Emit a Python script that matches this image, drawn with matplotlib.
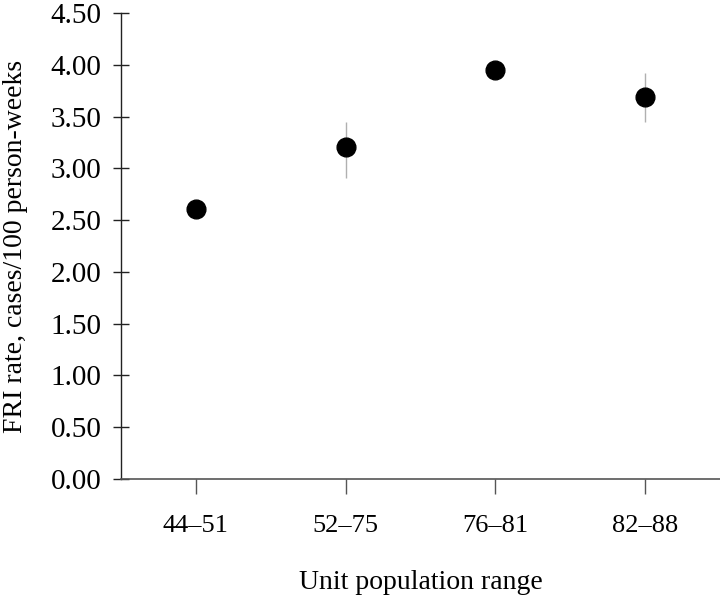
import matplotlib
matplotlib.use("Agg")
import matplotlib.pyplot as plt

categories = ["44\u201351", "52\u201375", "76\u201381", "82\u201388"]
rates = [2.61, 3.21, 3.95, 3.69]
err_low = [0.07, 0.30, 0.07, 0.24]
err_high = [0.07, 0.24, 0.07, 0.23]
yticks = [0.0, 0.5, 1.0, 1.5, 2.0, 2.5, 3.0, 3.5, 4.0, 4.5]

plt.rcParams['font.family'] = ['Liberation Serif', 'DejaVu Serif']

fig = plt.figure(figsize=(7.2, 5.98), dpi=100)
ax = fig.add_axes([121/720, 119/598, 1 - 121/720, (479-13)/598])

x = list(range(len(categories)))
ax.errorbar(x, rates, yerr=[err_low, err_high], fmt='none', ecolor='#b0b0b0',
            elinewidth=1.0, capsize=0, zorder=2)
ax.plot(x, rates, 'o', color='black', markersize=13.5, zorder=3)

ax.set_xlim(-0.5, 3.5)
ax.set_ylim(0, 4.5)
ax.set_xticks(x)
ax.set_xticklabels(categories)
ax.set_yticks(yticks)
ax.set_yticklabels([f"{v:.2f}" for v in yticks])

for s in ['top', 'right']:
    ax.spines[s].set_visible(False)
ax.spines['left'].set_color('#222222')
ax.spines['bottom'].set_color('#555555')
ax.spines['left'].set_linewidth(1.0)
ax.spines['bottom'].set_linewidth(1.2)

ax.tick_params(axis='y', direction='inout', length=12, width=1.0, labelsize=21,
               colors='#222222', labelcolor='black', pad=8)
ax.tick_params(axis='x', direction='out', length=11, width=1.0, labelsize=19,
               colors='#555555', labelcolor='black', pad=15)

ax.set_ylabel("FRI rate, cases/100 person-weeks", fontsize=20, labelpad=16)
ax.set_xlabel("Unit population range", fontsize=20, labelpad=24)

fig.savefig("out.png", dpi=100)
